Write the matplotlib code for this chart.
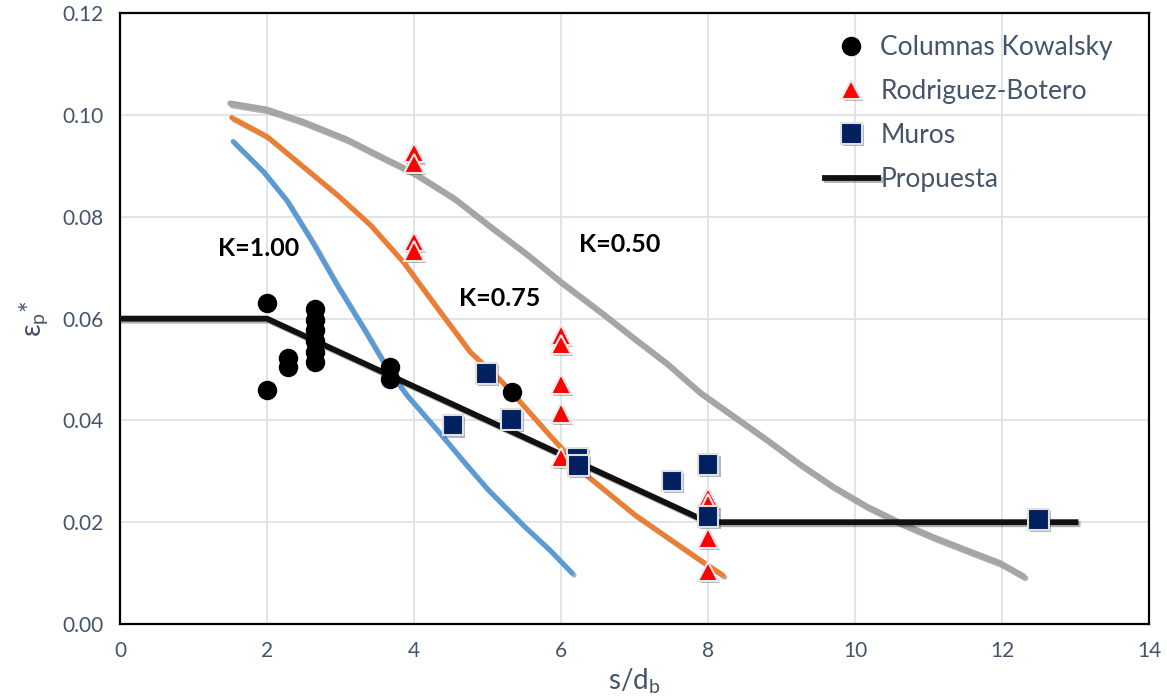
import numpy as np
import matplotlib.pyplot as plt
import matplotlib.patheffects as pe

plt.rcParams['font.family'] = ['Lato', 'DejaVu Sans']

# Columnas Kowalsky
kow_x = [2.0, 2.0, 2.29, 2.29, 2.65, 2.65, 2.65, 2.65, 2.65, 2.65, 3.67, 3.67, 5.33]
kow_y = [0.0631, 0.0460, 0.0523, 0.0504, 0.0618, 0.0598, 0.0578, 0.0556, 0.0535, 0.0515, 0.0504, 0.0481, 0.0456]

# Rodriguez-Botero
rb_x = [4.0, 4.0, 4.0, 4.0, 6.0, 6.0, 6.0, 6.0, 6.0, 8.0, 8.0, 8.0, 8.0]
rb_y = [0.0926, 0.0905, 0.0752, 0.0733, 0.0568, 0.0549, 0.0472, 0.0415, 0.0327, 0.0248, 0.0236, 0.0169, 0.0103]

# Muros
mu_x = [4.53, 4.99, 5.33, 6.22, 6.24, 7.51, 8.0, 8.0, 12.5]
mu_y = [0.0391, 0.0492, 0.0401, 0.0325, 0.0311, 0.0281, 0.0313, 0.0211, 0.0205]

# Propuesta
prop_x = [0, 2, 8, 13]
prop_y = [0.06, 0.06, 0.02, 0.02]

# curvas K
k100_x = [1.54, 1.95, 2.27, 2.63, 2.95, 3.31, 3.63, 3.90, 4.31, 4.70, 5.0, 5.5, 5.85, 6.15]
k100_y = [0.0948, 0.0889, 0.0832, 0.0748, 0.0667, 0.0582, 0.0504, 0.0450, 0.0382, 0.0315, 0.0265, 0.0192, 0.0145, 0.0100]

k075_x = [1.52, 2.0, 2.49, 2.95, 3.40, 3.85, 4.31, 4.76, 5.17, 5.44, 5.85, 6.35, 7.0, 7.5, 7.89, 8.20]
k075_y = [0.0995, 0.0958, 0.0899, 0.0844, 0.0785, 0.0712, 0.0622, 0.0535, 0.0480, 0.0437, 0.0370, 0.0292, 0.0215,
          0.0165, 0.0126, 0.0096]

k050_x = [1.50, 2.0, 2.49, 3.09, 3.54, 3.99, 4.55, 5.03, 5.55, 5.99, 6.53, 6.98, 7.44, 7.89, 8.34, 8.80, 9.25,
          9.70, 10.16, 10.61, 11.06, 11.52, 11.97, 12.29]
k050_y = [0.1023, 0.1011, 0.0987, 0.0952, 0.0919, 0.0887, 0.0836, 0.0782, 0.0725, 0.0673, 0.0614, 0.0563, 0.0512,
          0.0455, 0.0409, 0.0362, 0.0314, 0.0270, 0.0231, 0.0199, 0.0171, 0.0145, 0.0120, 0.0094]

txt_color = '#44546A'
line_shadow = [pe.SimpleLineShadow(offset=(1.5, -1.5), alpha=0.3), pe.Normal()]
mark_shadow = [pe.SimplePatchShadow(offset=(1.5, -1.5), alpha=0.3), pe.Normal()]

fig = plt.figure(figsize=(11.67, 7), dpi=100)
ax = fig.add_axes([0.1028, 0.1086, 0.8818, 0.8724])

ax.plot(k050_x, k050_y, color='#A5A5A5', lw=4.2, solid_capstyle='round', solid_joinstyle='round',
        path_effects=line_shadow, zorder=2)
ax.plot(k075_x, k075_y, color='#ED7D31', lw=3.6, solid_capstyle='round', solid_joinstyle='round',
        path_effects=line_shadow, zorder=2)
ax.plot(k100_x, k100_y, color='#5B9BD5', lw=3.6, solid_capstyle='round', solid_joinstyle='round',
        path_effects=line_shadow, zorder=2)

ax.plot(kow_x, kow_y, 'o', color='black', ms=13, ls='none', label='Columnas Kowalsky', zorder=4)
ax.plot(rb_x, rb_y, '^', color='red', mfc='red', mec='#E8E8E8', mew=1.5, ms=14, ls='none',
        label='Rodriguez-Botero', path_effects=mark_shadow, zorder=5)
ax.plot(mu_x, mu_y, 's', color='#002060', mfc='#002060', mec='#E0E0E0', mew=1.5, ms=15, ls='none',
        label='Muros', path_effects=mark_shadow, zorder=6)
ax.plot(prop_x, prop_y, color='#111111', lw=4.2, label='Propuesta', path_effects=line_shadow, zorder=3)

ax.text(1.88, 0.0737, 'K=1.00', fontsize=18, fontweight='bold', ha='center', va='center')
ax.text(5.17, 0.0640, 'K=0.75', fontsize=18, fontweight='bold', ha='center', va='center')
ax.text(6.80, 0.0745, 'K=0.50', fontsize=18, fontweight='bold', ha='center', va='center')

ax.set_xlim(0, 14)
ax.set_ylim(0, 0.12)
ax.set_xticks(np.arange(0, 15, 2))
ax.set_yticks(np.arange(0, 0.121, 0.02))
ax.set_yticklabels([f'{v:.2f}' for v in np.arange(0, 0.121, 0.02)])
ax.grid(True, color='#DDE3EA', lw=1.3)
ax.set_axisbelow(True)
ax.tick_params(length=0, labelsize=15, labelcolor=txt_color, pad=12)
for s in ax.spines.values():
    s.set_color('black')
    s.set_linewidth(1.6)

ax.set_xlabel('s/d$_\\mathregular{b}$', fontsize=20, color=txt_color, labelpad=4)
ax.set_ylabel('ε$_\\mathregular{p}$*', fontsize=20, color=txt_color, labelpad=8)

leg = ax.legend(loc='upper left', bbox_to_anchor=(0.667, 0.995), frameon=False, fontsize=19,
                labelcolor=txt_color, handlelength=2.0, handletextpad=0.1, labelspacing=0.72,
                borderpad=0.2)

fig.savefig('out.png', dpi=100)
